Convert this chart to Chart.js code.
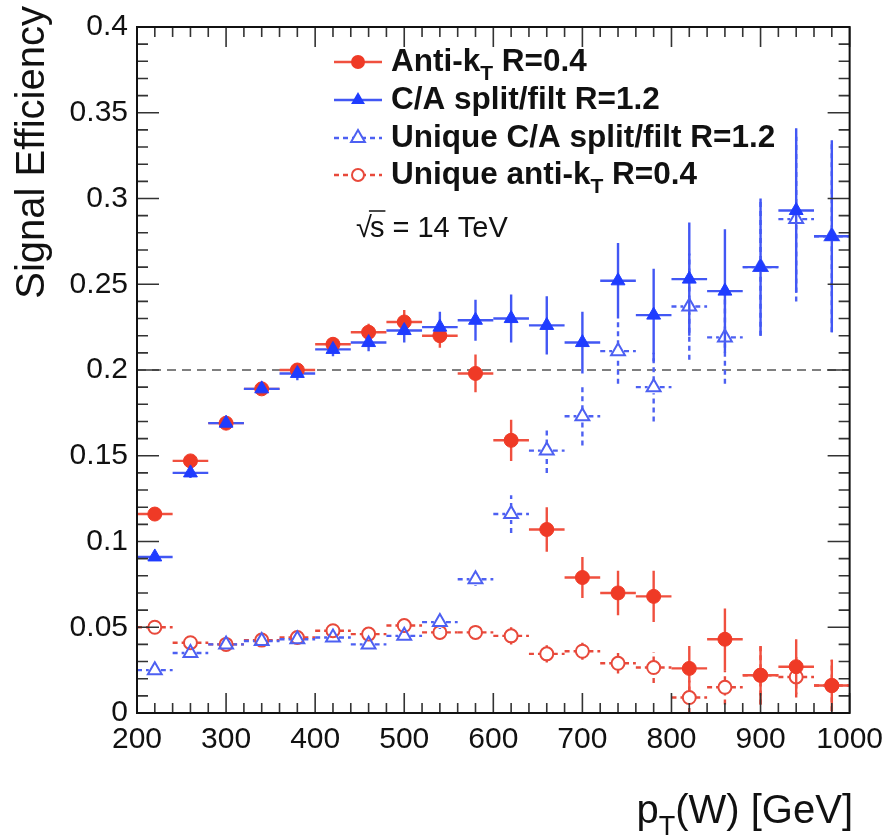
<!DOCTYPE html>
<html>
<head>
<meta charset="utf-8">
<title>Signal Efficiency vs pT(W)</title>
<script src="https://cdn.jsdelivr.net/npm/chart.js@4.4.1/dist/chart.umd.min.js"></script>
<style>
    html, body { margin: 0; padding: 0; background: #ffffff; }
    #wrap { width: 892px; height: 836px; position: relative; }
</style>
</head>
<body>
<div id="wrap"><canvas id="chart" width="892" height="836"></canvas></div>
<script>
// =============================================================================
// DATA
// =============================================================================

const ptBins = [220, 260, 300, 340, 380, 420, 460, 500, 540, 580,
                620, 660, 700, 740, 780, 820, 860, 900, 940, 980];
const binHalfWidth = 20;

const antiKt = [0.116, 0.147, 0.169, 0.189, 0.200, 0.215, 0.222, 0.228, 0.220, 0.198,
                0.159, 0.107, 0.079, 0.070, 0.068, 0.026, 0.043, 0.022, 0.027, 0.016];
const antiKtErr = [0.002, 0.003, 0.003, 0.003, 0.004, 0.004, 0.005, 0.007, 0.007, 0.011,
                   0.012, 0.013, 0.012, 0.013, 0.015, 0.013, 0.018, 0.017, 0.016, 0.015];

const caFilt = [0.091, 0.140, 0.169, 0.189, 0.198, 0.212, 0.216, 0.223, 0.225, 0.229,
                0.230, 0.226, 0.216, 0.252, 0.232, 0.253, 0.246, 0.260, 0.293, 0.278];
const caFiltErr = [0.002, 0.003, 0.003, 0.003, 0.004, 0.004, 0.005, 0.007, 0.009, 0.012,
                   0.014, 0.017, 0.018, 0.022, 0.027, 0.033, 0.036, 0.040, 0.048, 0.056];

const uniqueCa = [0.025, 0.035, 0.040, 0.042, 0.043, 0.044, 0.040, 0.045, 0.053, 0.078,
                  0.116, 0.153, 0.173, 0.211, 0.190, 0.237, 0.219, 0.260, 0.288, 0.278];
const uniqueCaErr = [0.002, 0.002, 0.002, 0.002, 0.002, 0.003, 0.003, 0.003, 0.004, 0.004,
                     0.011, 0.013, 0.017, 0.019, 0.020, 0.031, 0.027, 0.040, 0.048, 0.056];

const uniqueAntiKt = [0.050, 0.041, 0.040, 0.0425, 0.044, 0.048, 0.046, 0.051, 0.047, 0.047,
                      0.045, 0.0345, 0.036, 0.029, 0.0265, 0.009, 0.015, 0.022, 0.021, 0.016];
const uniqueAntiKtErr = [0.002, 0.002, 0.002, 0.002, 0.003, 0.003, 0.003, 0.004, 0.004, 0.004,
                         0.005, 0.005, 0.005, 0.006, 0.009, 0.010, 0.010, 0.017, 0.012, 0.015];

const xTicks = [200, 300, 400, 500, 600, 700, 800, 900, 1000];
const yTicks = [0, 0.05, 0.1, 0.15, 0.2, 0.25, 0.3, 0.35, 0.4];
const referenceLine = 0.2;

const seriesLabels = [
    [{ t: 'Anti-k' }, { t: 'T', sub: true }, { t: ' R=0.4' }],
    [{ t: 'C/A split/filt R=1.2' }],
    [{ t: 'Unique C/A split/filt R=1.2' }],
    [{ t: 'Unique anti-k' }, { t: 'T', sub: true }, { t: ' R=0.4' }]
];

// =============================================================================
// STYLE
// =============================================================================

const colors = {
    red: '#ef3a26',
    redBar: '#f0503f',
    blue: '#1f3cff',
    blueBar: '#4257f4',
    blueOpen: '#4d60f2',
    redOpen: '#e8493b',
    frame: '#111111',
    tick: '#333333',
    refLine: '#555555',
    text: '#111111'
};
const FONT = "'Liberation Sans', Arial, Helvetica, sans-serif";

function toPoints(values) {
    return ptBins.map((x, i) => ({ x: x, y: values[i] }));
}

// rich text with subscript pieces, returns width
function richText(ctx, parts, x, y, size, weight, measureOnly) {
    let cx = x;
    parts.forEach(p => {
        const s = p.sub ? Math.round(size * 0.68) : size;
        ctx.font = `${weight} ${s}px ${FONT}`;
        if (!measureOnly) ctx.fillText(p.t, cx, p.sub ? y + size * 0.3 : y);
        cx += ctx.measureText(p.t).width;
    });
    return cx - x;
}

function markerPath(ctx, style, x, y, r) {
    ctx.beginPath();
    if (style === 'circle') {
        ctx.arc(x, y, r, 0, Math.PI * 2);
    } else {
        ctx.moveTo(x, y - r);
        ctx.lineTo(x + r * 0.866, y + r * 0.5);
        ctx.lineTo(x - r * 0.866, y + r * 0.5);
        ctx.closePath();
    }
}

// =============================================================================
// PLUGINS
// =============================================================================

const errorBars = {
    id: 'errorBars',
    beforeDatasetsDraw(chart) {
        const { ctx, scales: { x, y } } = chart;
        // dashed reference line
        ctx.save();
        ctx.strokeStyle = colors.refLine;
        ctx.lineWidth = 1.6;
        ctx.setLineDash([9, 6]);
        ctx.beginPath();
        ctx.moveTo(chart.chartArea.left, y.getPixelForValue(referenceLine));
        ctx.lineTo(chart.chartArea.right, y.getPixelForValue(referenceLine));
        ctx.stroke();
        ctx.restore();

        const metas = chart.getSortedVisibleDatasetMetas().slice().reverse();
        metas.forEach(meta => {
            const ds = chart.data.datasets[meta.index];
            ctx.save();
            ctx.strokeStyle = ds.errColor;
            ctx.lineWidth = 2.4;
            ctx.setLineDash(ds.errDash || []);
            const g = ds.gap || 0;
            ds.data.forEach((p, j) => {
                const cx = x.getPixelForValue(p.x);
                const cy = y.getPixelForValue(p.y);
                const x0 = x.getPixelForValue(p.x - binHalfWidth);
                const x1 = x.getPixelForValue(p.x + binHalfWidth);
                const y0 = y.getPixelForValue(Math.max(0, p.y - ds.errors[j]));
                const y1 = y.getPixelForValue(p.y + ds.errors[j]);
                ctx.beginPath();
                ctx.moveTo(x0, cy); ctx.lineTo(cx - g, cy);
                ctx.moveTo(cx + g, cy); ctx.lineTo(x1, cy);
                if (y0 - cy > g) { ctx.moveTo(cx, y0); ctx.lineTo(cx, cy + g); }
                if (cy - y1 > g) { ctx.moveTo(cx, cy - g); ctx.lineTo(cx, y1); }
                ctx.stroke();
            });
            ctx.restore();
        });
    }
};

const frameAndText = {
    id: 'frameAndText',
    afterDraw(chart) {
        const { ctx, chartArea: a, scales: { x, y } } = chart;
        ctx.save();

        // ticks on all four sides (ROOT style, inward)
        ctx.strokeStyle = colors.tick;
        ctx.lineWidth = 1.6;
        ctx.beginPath();
        for (let v = 200; v <= 1000; v += 20) {
            const px = x.getPixelForValue(v);
            const len = (v % 100 === 0) ? 20 : 10;
            ctx.moveTo(px, a.bottom); ctx.lineTo(px, a.bottom - len);
            ctx.moveTo(px, a.top); ctx.lineTo(px, a.top + len);
        }
        for (let k = 0; k <= 40; k++) {
            const py = y.getPixelForValue(k / 100);
            const len = (k % 5 === 0) ? 22 : 11;
            ctx.moveTo(a.left, py); ctx.lineTo(a.left + len, py);
            ctx.moveTo(a.right, py); ctx.lineTo(a.right - len, py);
        }
        ctx.stroke();

        // frame
        ctx.strokeStyle = colors.frame;
        ctx.lineWidth = 2;
        ctx.strokeRect(a.left, a.top, a.right - a.left, a.bottom - a.top);

        // legend
        const rows = [62, 100, 138, 175];
        const legendStyles = [
            { color: colors.redBar, mark: colors.red, style: 'circle', fill: true, dash: [], r: 7 },
            { color: colors.blueBar, mark: colors.blue, style: 'triangle', fill: true, dash: [], r: 8 },
            { color: colors.blueOpen, mark: colors.blueOpen, style: 'triangle', fill: false, dash: [5, 4], r: 8 },
            { color: colors.redOpen, mark: colors.redOpen, style: 'circle', fill: false, dash: [5, 4], r: 6 }
        ];
        rows.forEach((ry, i) => {
            const s = legendStyles[i];
            ctx.strokeStyle = s.color;
            ctx.lineWidth = 2.4;
            ctx.setLineDash(s.dash);
            ctx.beginPath();
            ctx.moveTo(334, ry); ctx.lineTo(382, ry);
            ctx.stroke();
            ctx.setLineDash([]);
            markerPath(ctx, s.style, 358, ry, s.r);
            if (s.fill) {
                ctx.fillStyle = s.mark; ctx.fill();
            } else {
                ctx.fillStyle = '#ffffff'; ctx.fill();
                ctx.lineWidth = 2; ctx.strokeStyle = s.mark; ctx.stroke();
            }
            ctx.fillStyle = colors.text;
            ctx.textBaseline = 'alphabetic';
            ctx.textAlign = 'left';
            richText(ctx, seriesLabels[i], 391, ry + 9, 31.5, 'bold');
        });

        // sqrt(s) annotation
        ctx.fillStyle = colors.text;
        ctx.font = `29px ${FONT}`;
        ctx.fillText('\u221A', 356, 237);
        const rw = ctx.measureText('\u221A').width;
        const sw = ctx.measureText('s').width;
        ctx.fillText('s = 14 TeV', 356 + rw - 2, 237);
        ctx.strokeStyle = colors.text;
        ctx.lineWidth = 1.5;
        ctx.beginPath();
        ctx.moveTo(356 + rw - 3, 211); ctx.lineTo(356 + rw - 2 + sw + 1, 211);
        ctx.stroke();

        // axis titles
        ctx.save();
        ctx.translate(44, 6);
        ctx.rotate(-Math.PI / 2);
        ctx.textAlign = 'right';
        ctx.font = `40px ${FONT}`;
        ctx.fillText('Signal Efficiency', 0, 0);
        ctx.restore();

        const titleParts = [{ t: 'p' }, { t: 'T', sub: true }, { t: '(W) [GeV]' }];
        const tw = richText(ctx, titleParts, 0, 0, 40, 'normal', true);
        richText(ctx, titleParts, 853 - tw, 823, 40, 'normal');

        ctx.restore();
    }
};

// =============================================================================
// CHART
// =============================================================================

const datasets = [
    {
        label: 'C/A split/filt R=1.2',
        data: toPoints(caFilt),
        errors: caFiltErr,
        errColor: colors.blueBar,
        pointStyle: 'triangle',
        pointRadius: 8,
        backgroundColor: colors.blue,
        borderColor: colors.blue,
        borderWidth: 1,
        order: 1
    },
    {
        label: 'Anti-kT R=0.4',
        data: toPoints(antiKt),
        errors: antiKtErr,
        errColor: colors.redBar,
        pointStyle: 'circle',
        pointRadius: 7,
        backgroundColor: colors.red,
        borderColor: colors.red,
        borderWidth: 1,
        order: 2
    },
    {
        label: 'Unique C/A split/filt R=1.2',
        data: toPoints(uniqueCa),
        errors: uniqueCaErr,
        errColor: colors.blueOpen,
        errDash: [5, 4],
        gap: 6,
        pointStyle: 'triangle',
        pointRadius: 8,
        backgroundColor: 'rgba(255,255,255,0)',
        borderColor: colors.blueOpen,
        borderWidth: 2,
        order: 3
    },
    {
        label: 'Unique anti-kT R=0.4',
        data: toPoints(uniqueAntiKt),
        errors: uniqueAntiKtErr,
        errColor: colors.redOpen,
        errDash: [5, 4],
        gap: 6,
        pointStyle: 'circle',
        pointRadius: 6.5,
        backgroundColor: 'rgba(255,255,255,0)',
        borderColor: colors.redOpen,
        borderWidth: 2,
        order: 4
    }
];

new Chart(document.getElementById('chart').getContext('2d'), {
    type: 'scatter',
    data: { datasets: datasets },
    options: {
        responsive: false,
        animation: false,
        layout: { padding: { left: 0, top: 18, right: 36, bottom: 0 } },
        plugins: {
            legend: { display: false },
            tooltip: { enabled: false }
        },
        scales: {
            x: {
                type: 'linear',
                min: 200,
                max: 1000,
                afterBuildTicks: scale => { scale.ticks = xTicks.map(v => ({ value: v })); },
                afterFit: scale => { scale.height = 123; },
                grid: { display: false, drawTicks: false },
                border: { display: false },
                ticks: {
                    color: colors.text,
                    padding: 9,
                    maxRotation: 0,
                    autoSkip: false,
                    font: { family: FONT, size: 30 },
                    callback: v => String(v)
                }
            },
            y: {
                type: 'linear',
                min: 0,
                max: 0.4,
                afterBuildTicks: scale => { scale.ticks = yTicks.map(v => ({ value: v })); },
                afterFit: scale => { scale.width = 137; },
                grid: { display: false, drawTicks: false },
                border: { display: false },
                ticks: {
                    color: colors.text,
                    padding: 9,
                    autoSkip: false,
                    font: { family: FONT, size: 30 },
                    callback: v => (v === 0 ? '0' : String(+v.toFixed(2)))
                }
            }
        }
    },
    plugins: [errorBars, frameAndText]
});
</script>
</body>
</html>
